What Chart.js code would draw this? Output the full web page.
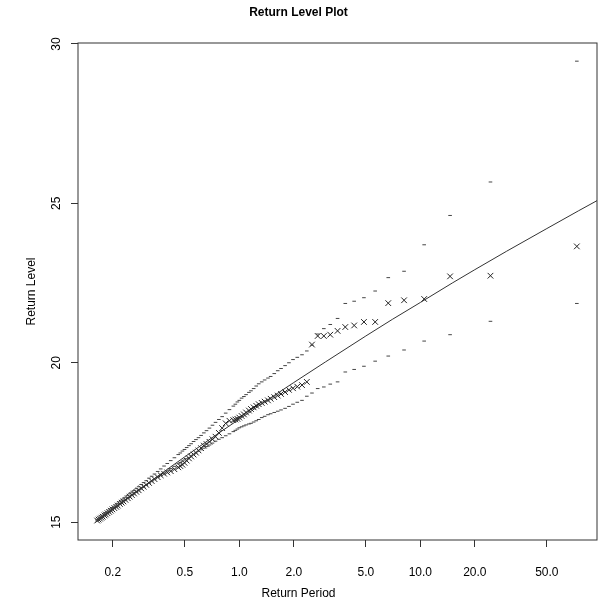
<!DOCTYPE html>
<html>
<head>
<meta charset="utf-8">
<title>Return Level Plot</title>
<script src="https://cdn.jsdelivr.net/npm/chart.js@4.4.1/dist/chart.umd.min.js"></script>
<style>
  body { margin: 0; background: #fff; }
  #wrap { width: 602px; height: 603px; }
</style>
</head>
<body>
<div id="wrap"><canvas id="myChart" width="602" height="603"></canvas></div>
<script>
// return periods of the observed points (largest first)
const periods = [73.2, 24.4, 14.6, 10.5, 8.13, 6.65, 5.63, 4.88, 4.31, 3.85, 3.49, 3.18, 2.93, 2.71, 2.52,
  2.36, 2.22, 2.09, 1.98, 1.88, 1.79, 1.70, 1.63, 1.56, 1.49, 1.44, 1.38, 1.33, 1.28, 1.24, 1.20, 1.16,
  1.13, 1.09, 1.06, 1.03, 1.00, 0.976, 0.951, 0.927,
  0.882, 0.841, 0.804, 0.771, 0.739, 0.711, 0.684, 0.659, 0.637, 0.615, 0.595, 0.576, 0.559, 0.542,
  0.527, 0.512, 0.498, 0.485, 0.472, 0.460,
  0.438, 0.418, 0.400, 0.384, 0.368, 0.354, 0.340, 0.328, 0.317, 0.306, 0.296, 0.287, 0.278, 0.270,
  0.262, 0.255, 0.248, 0.242, 0.235, 0.229, 0.224, 0.219, 0.213, 0.209, 0.204, 0.199, 0.195, 0.191,
  0.187, 0.183, 0.180, 0.176, 0.173, 0.170, 0.167, 0.164]
const levels = [23.65, 22.73, 22.71, 22.00, 21.96, 21.87, 21.28, 21.28, 21.17, 21.12, 21.00, 20.88, 20.84, 20.84, 20.57,
  19.40, 19.30, 19.25, 19.20, 19.15, 19.08, 19.02, 18.97, 18.92, 18.87, 18.82, 18.78, 18.74, 18.70, 18.65, 18.60, 18.55,
  18.50, 18.44, 18.38, 18.33, 18.28, 18.24, 18.22, 18.20,
  18.18, 18.10, 17.95, 17.80, 17.68, 17.60, 17.52, 17.45, 17.40, 17.32, 17.25, 17.18, 17.12, 17.06,
  17.00, 16.93, 16.86, 16.80, 16.76, 16.72,
  16.66, 16.60, 16.56, 16.52, 16.47, 16.41, 16.35, 16.29, 16.23, 16.17, 16.11, 16.06, 16.00, 15.95,
  15.90, 15.85, 15.80, 15.75, 15.70, 15.65, 15.61, 15.57, 15.52, 15.48, 15.44, 15.40, 15.36, 15.32,
  15.28, 15.24, 15.21, 15.17, 15.14, 15.11, 15.08, 15.05]
const upperCI = [29.46, 25.67, 24.62, 23.70, 22.87, 22.67, 22.25, 22.04, 21.93, 21.86, 21.39, 21.20, 21.07, 20.90, 20.55,
  20.37, 20.25, 20.17, 20.10, 20.00, 19.91, 19.82, 19.75, 19.66, 19.57, 19.52, 19.46, 19.40, 19.34, 19.27, 19.19, 19.12,
  19.07, 19.00, 18.94, 18.89, 18.82, 18.77, 18.70, 18.64,
  18.53, 18.42, 18.31, 18.22, 18.13, 18.04, 17.95, 17.87, 17.80, 17.72, 17.65, 17.59, 17.53, 17.46,
  17.40, 17.34, 17.28, 17.23, 17.17, 17.12,
  17.02, 16.93, 16.84, 16.76, 16.67, 16.59, 16.51, 16.44, 16.38, 16.30, 16.24, 16.18, 16.11, 16.05,
  15.99, 15.94, 15.89, 15.84, 15.78, 15.73, 15.69, 15.64, 15.59, 15.54, 15.50, 15.46, 15.42, 15.38,
  15.34, 15.30, 15.26, 15.22, 15.19, 15.15, 15.12, 15.08]
const lowerCI = [21.86, 21.30, 20.88, 20.68, 20.40, 20.21, 20.05, 19.89, 19.79, 19.71, 19.40, 19.33, 19.24, 19.19, 19.05,
  18.95, 18.82, 18.76, 18.70, 18.63, 18.57, 18.52, 18.48, 18.44, 18.40, 18.37, 18.32, 18.28, 18.22, 18.18, 18.14, 18.10,
  18.08, 18.05, 18.02, 17.99, 17.96, 17.92, 17.88, 17.84,
  17.77, 17.71, 17.65, 17.60, 17.54, 17.48, 17.42, 17.37, 17.32, 17.27, 17.22, 17.17, 17.13, 17.08,
  17.03, 16.99, 16.95, 16.91, 16.87, 16.83,
  16.75, 16.68, 16.61, 16.54, 16.46, 16.40, 16.33, 16.27, 16.21, 16.15, 16.09, 16.04, 15.98, 15.93,
  15.88, 15.84, 15.79, 15.74, 15.69, 15.64, 15.60, 15.56, 15.51, 15.47, 15.43, 15.39, 15.35, 15.31,
  15.27, 15.23, 15.20, 15.16, 15.13, 15.10, 15.07, 15.04]

// fitted return level curve
const fitPeriods = [0.164, 0.2, 0.3, 0.5, 0.75, 1, 1.5, 2, 3, 5, 7, 10, 15, 20, 30, 50, 75, 100]
const fitLevels = [15.05, 15.41, 16.15, 17.05, 17.75, 18.23, 18.91, 19.38, 20.03, 20.84, 21.36, 21.89, 22.50, 22.92, 23.50, 24.21, 24.77, 25.16]

const xTicks = [0.2, 0.5, 1, 2, 5, 10, 20, 50]
const xTickLabels = ['0.2', '0.5', '1.0', '2.0', '5.0', '10.0', '20.0', '50.0']
const yTicks = [15, 20, 25, 30]

function pts(xs, ys) {
  return xs.map((x, i) => ({ x: x, y: ys[i] }))
}

Chart.defaults.font.family = '"Liberation Sans", Arial, Helvetica, sans-serif'
Chart.defaults.color = '#000'

// R style box around the plot region
const boxPlugin = {
  id: 'plotBox',
  afterDraw(chart) {
    const { ctx, chartArea: a } = chart
    ctx.save()
    ctx.strokeStyle = '#333'
    ctx.lineWidth = 1
    ctx.strokeRect(a.left, a.top, a.right - a.left, a.bottom - a.top)
    ctx.restore()
  }
}

const data = {
  datasets: [
    {
      type: 'line',
      data: pts(fitPeriods, fitLevels),
      borderColor: '#333',
      borderWidth: 1,
      pointRadius: 0,
      tension: 0,
      fill: false
    },
    {
      type: 'scatter',
      data: pts(periods, upperCI),
      pointStyle: 'line',
      pointRadius: 1.8,
      pointBorderWidth: 1,
      pointBorderColor: '#444',
      pointBackgroundColor: '#444'
    },
    {
      type: 'scatter',
      data: pts(periods, lowerCI),
      pointStyle: 'line',
      pointRadius: 1.8,
      pointBorderWidth: 1,
      pointBorderColor: '#444',
      pointBackgroundColor: '#444'
    },
    {
      type: 'scatter',
      data: pts(periods, levels),
      pointStyle: 'crossRot',
      pointRadius: 4,
      pointBorderWidth: 1,
      pointBorderColor: '#222',
      pointBackgroundColor: '#222'
    }
  ]
}

const config = {
  type: 'scatter',
  data,
  options: {
    responsive: false,
    animation: false,
    devicePixelRatio: 1,
    layout: { padding: { left: 0, right: 5, top: 0, bottom: 0 } },
    plugins: {
      legend: { display: false },
      tooltip: { enabled: false },
      title: {
        display: true,
        text: 'Return Level Plot',
        font: { size: 12, weight: 'bold' },
        color: '#000',
        padding: { top: 5, bottom: 23.6 }
      },
      subtitle: {
        display: true,
        position: 'bottom',
        text: 'Return Period',
        font: { size: 12 },
        color: '#000',
        padding: { top: 0, bottom: 2 }
      }
    },
    scales: {
      x: {
        type: 'logarithmic',
        min: 0.1285,
        max: 94.6,
        border: { display: false },
        grid: { display: true, drawOnChartArea: false, drawTicks: true, tickLength: 7, tickColor: '#333' },
        afterBuildTicks: (scale) => { scale.ticks = xTicks.map(v => ({ value: v })) },
        afterFit: (scale) => { scale.height = 46.6 },
        ticks: {
          autoSkip: false,
          maxRotation: 0,
          padding: 18,
          font: { size: 12 },
          callback: (value, index) => xTickLabels[index]
        }
      },
      y: {
        type: 'linear',
        min: 14.44,
        max: 30.03,
        border: { display: false },
        grid: { display: true, drawOnChartArea: false, drawTicks: true, tickLength: 7, tickColor: '#333' },
        afterBuildTicks: (scale) => { scale.ticks = yTicks.map(v => ({ value: v })) },
        afterFit: (scale) => { scale.width = 78 },
        title: {
          display: true,
          text: 'Return Level',
          font: { size: 12 },
          color: '#000',
          padding: { top: 24, bottom: 0 }
        },
        ticks: {
          minRotation: 90,
          maxRotation: 90,
          crossAlign: 'center',
          padding: 8,
          font: { size: 12 },
          callback: (value) => String(value)
        }
      }
    }
  },
  plugins: [boxPlugin]
}

const myChart = new Chart(document.getElementById('myChart'), config)
</script>
</body>
</html>
